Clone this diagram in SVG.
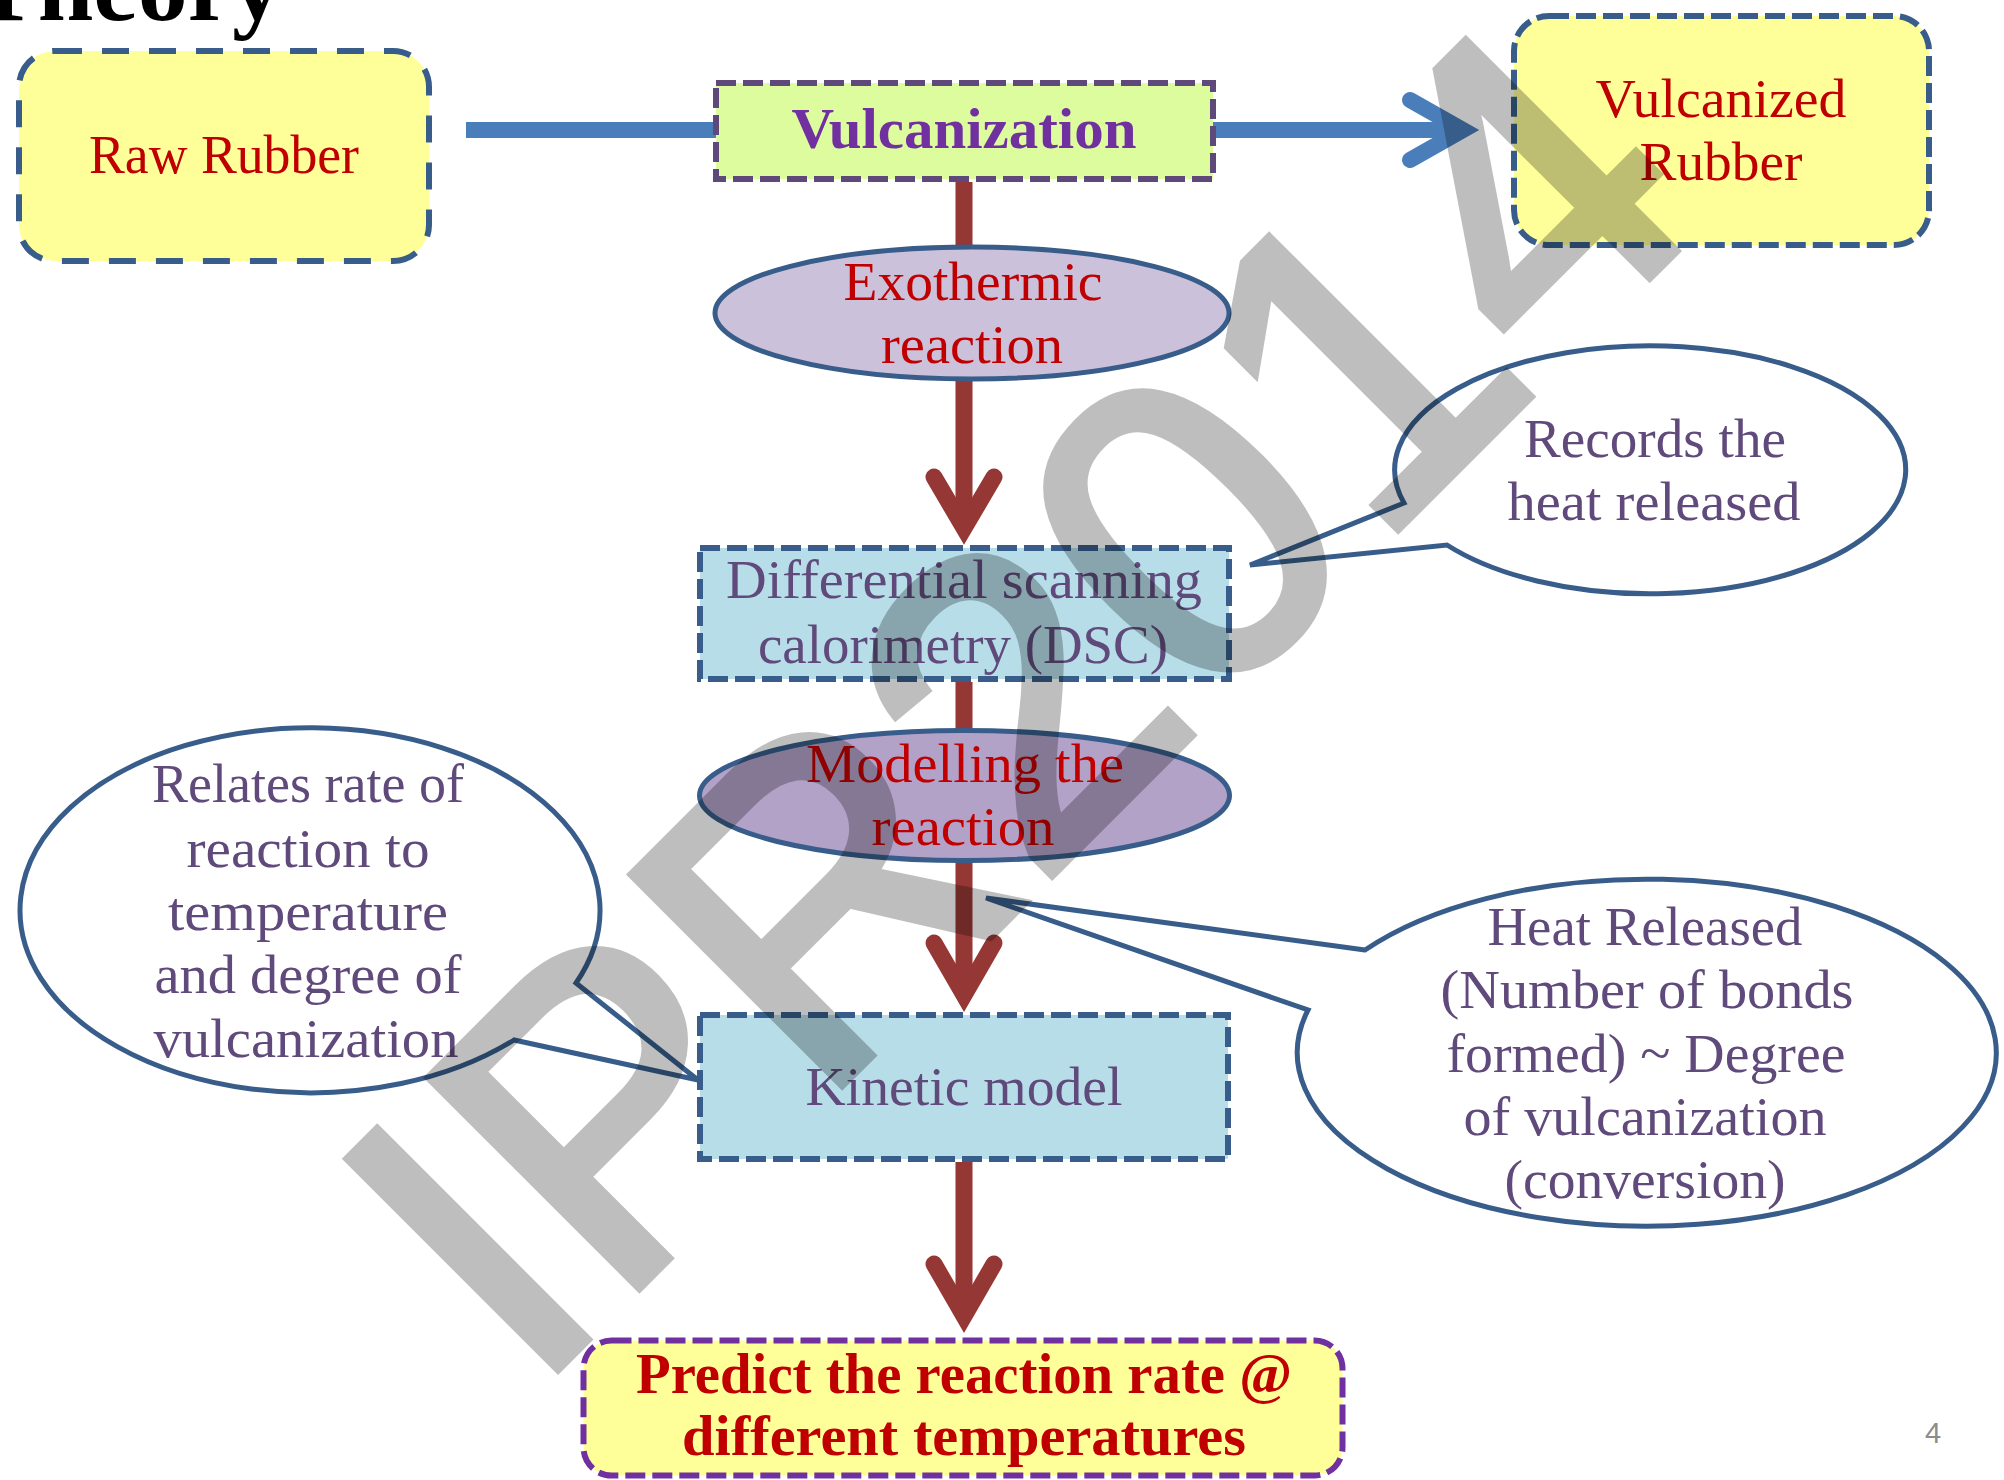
<svg xmlns="http://www.w3.org/2000/svg" width="2004" height="1480" viewBox="0 0 2004 1480">
<style>
.t{font-family:"Liberation Serif","Times New Roman",serif;font-size:54px;text-anchor:middle}
.b{font-weight:bold;font-size:56px}
.red{fill:#c00000}
.pur{fill:#604a7b}
.box{stroke-width:6;stroke-dasharray:20 7}
.blue{stroke:#385d8a}
.ell{stroke:#385d8a;stroke-width:5}
.call{fill:#ffffff;stroke:#385d8a;stroke-width:5;stroke-linejoin:miter}
.rl{stroke:#953735;stroke-width:17;fill:none}
.rh{stroke:#953735;stroke-width:17;fill:none;stroke-linecap:round;stroke-linejoin:miter}
</style>
<rect width="2004" height="1480" fill="#ffffff"/>
<text x="-29" y="20" font-family="Liberation Serif, serif" font-weight="bold" font-size="100" fill="#000000">Theory</text>

<g id="connectors">
  <line x1="466" y1="130" x2="1463" y2="130" stroke="#4a7ebb" stroke-width="16"/>
  <path d="M1410,100 L1463,130 L1410,160" fill="none" stroke="#4a7ebb" stroke-width="16" stroke-linecap="round" stroke-linejoin="miter"/>
  <line class="rl" x1="964" y1="182" x2="964" y2="528"/>
  <path class="rh" d="M934,477 L964,528 L994,477"/>
  <line class="rl" x1="964" y1="682" x2="964" y2="995"/>
  <path class="rh" d="M934,943 L964,995 L994,943"/>
  <line class="rl" x1="964" y1="1162" x2="964" y2="1316"/>
  <path class="rh" d="M934,1264 L964,1316 L994,1264"/>
</g>

<g id="raw-rubber">
  <rect x="19" y="51" width="410" height="210" rx="36" fill="#ffff99" stroke="#385d8a" stroke-width="6" stroke-dasharray="27 20"/>
  <text class="t red" x="224" y="173" textLength="270" lengthAdjust="spacingAndGlyphs">Raw Rubber</text>
</g>

<g id="vulcanization">
  <rect class="box" x="716" y="83" width="497" height="96" fill="#dcfc9e" stroke="#5f497a"/>
  <text class="t b" x="964" y="148" fill="#7030a0" textLength="345" lengthAdjust="spacingAndGlyphs">Vulcanization</text>
</g>

<g id="vulcanized-rubber">
  <rect class="box blue" x="1514" y="16" width="415" height="229" rx="35" fill="#ffff99"/>
  <text class="t red" x="1721" y="117" textLength="251" lengthAdjust="spacingAndGlyphs">Vulcanized</text>
  <text class="t red" x="1721" y="180" textLength="163" lengthAdjust="spacingAndGlyphs">Rubber</text>
</g>

<g id="exothermic">
  <ellipse class="ell" cx="972" cy="313" rx="257" ry="66" fill="#ccc1da"/>
  <text class="t red" x="973" y="300" textLength="259" lengthAdjust="spacingAndGlyphs">Exothermic</text>
  <text class="t red" x="972" y="363" textLength="182" lengthAdjust="spacingAndGlyphs">reaction</text>
</g>

<g id="dsc">
  <rect class="box blue" x="700" y="548" width="529" height="131" fill="#b7dee8"/>
  <text class="t pur" x="964" y="598" textLength="476" lengthAdjust="spacingAndGlyphs">Differential scanning</text>
  <text class="t pur" x="963" y="663" textLength="410" lengthAdjust="spacingAndGlyphs">calorimetry (DSC)</text>
</g>

<g id="modelling">
  <ellipse class="ell" cx="964.5" cy="795.5" rx="265" ry="65" fill="#b3a2c7"/>
  <text class="t red" x="965" y="782" textLength="318" lengthAdjust="spacingAndGlyphs">Modelling the</text>
  <text class="t red" x="963" y="845" textLength="183" lengthAdjust="spacingAndGlyphs">reaction</text>
</g>

<g id="kinetic-model">
  <rect class="box blue" x="700" y="1015" width="528" height="144" fill="#b7dee8"/>
  <text class="t pur" x="964" y="1105" textLength="317" lengthAdjust="spacingAndGlyphs">Kinetic model</text>
</g>

<g id="predict">
  <rect class="box" x="583.5" y="1340.5" width="759" height="135" rx="28" fill="#ffff99" stroke="#7030a0" stroke-width="7" stroke-dasharray="21 8"/>
  <text class="t b red" x="964" y="1393" textLength="656" lengthAdjust="spacingAndGlyphs">Predict the reaction rate @</text>
  <text class="t b red" x="964" y="1455" textLength="564" lengthAdjust="spacingAndGlyphs">different temperatures</text>
</g>

<g id="callout-records">
  <path class="call" d="M1404,503 L1250,565 L1447,545 A255.5,124 0 1 0 1404,503 Z"/>
  <text class="t pur" x="1655" y="457" textLength="262" lengthAdjust="spacingAndGlyphs">Records the</text>
  <text class="t pur" x="1654" y="520" textLength="293" lengthAdjust="spacingAndGlyphs">heat released</text>
</g>

<g id="callout-relates">
  <path class="call" d="M576,983 L698,1080 L514,1040 A290,182.5 0 1 1 576,983 Z"/>
  <text class="t pur" x="308" y="802" textLength="312" lengthAdjust="spacingAndGlyphs">Relates rate of</text>
  <text class="t pur" x="308" y="867" textLength="243" lengthAdjust="spacingAndGlyphs">reaction to</text>
  <text class="t pur" x="308" y="930" textLength="280" lengthAdjust="spacingAndGlyphs">temperature</text>
  <text class="t pur" x="308" y="993" textLength="307" lengthAdjust="spacingAndGlyphs">and degree of</text>
  <text class="t pur" x="306" y="1057" textLength="305" lengthAdjust="spacingAndGlyphs">vulcanization</text>
</g>

<g id="callout-heat">
  <path class="call" d="M1365,950 L986,898 L1308,1010 A349.5,173.5 0 1 0 1365,950 Z"/>
  <text class="t pur" x="1645" y="945" textLength="315" lengthAdjust="spacingAndGlyphs">Heat Released</text>
  <text class="t pur" x="1647" y="1008" textLength="413" lengthAdjust="spacingAndGlyphs">(Number of bonds</text>
  <text class="t pur" x="1646" y="1072" textLength="399" lengthAdjust="spacingAndGlyphs">formed) ~ Degree</text>
  <text class="t pur" x="1645" y="1135" textLength="363" lengthAdjust="spacingAndGlyphs">of vulcanization</text>
  <text class="t pur" x="1645" y="1198" textLength="281" lengthAdjust="spacingAndGlyphs">(conversion)</text>
</g>

<text x="1933" y="1443" font-family="Liberation Sans, Arial, sans-serif" font-size="29" fill="#8c8c8c" text-anchor="middle">4</text>

<g id="watermark" opacity="0.25">
  <text transform="translate(530,1396) rotate(-45)" font-family="Liberation Sans, Arial, sans-serif" font-size="430" fill="#000000" stroke="#000000" stroke-width="10" stroke-linejoin="miter">IPR2014</text>
</g>
</svg>
